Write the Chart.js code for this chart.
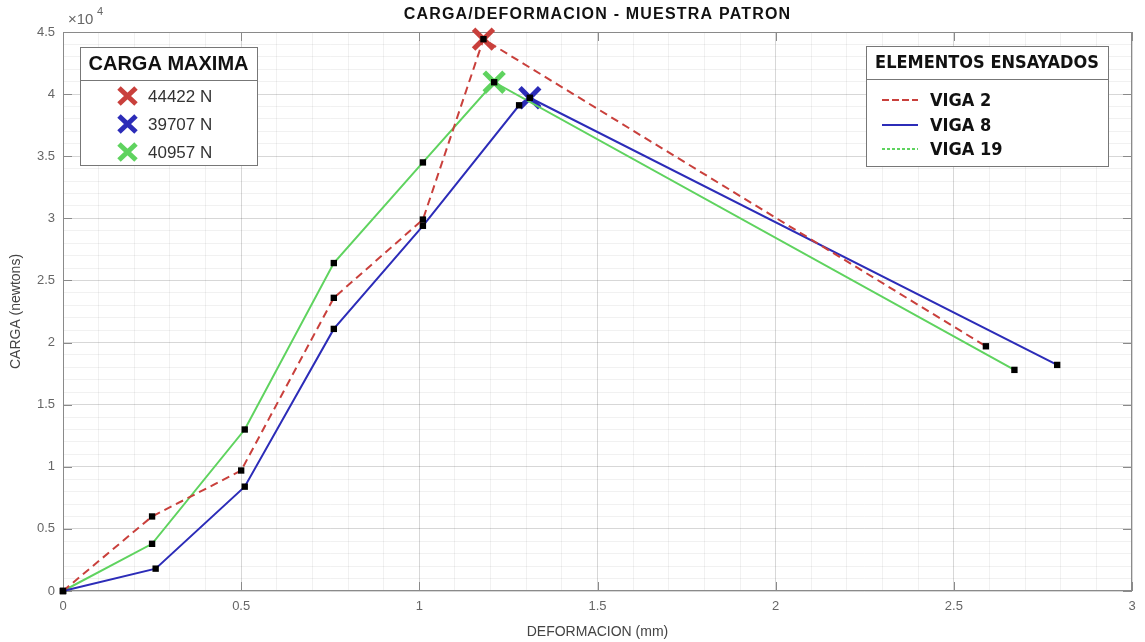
<!DOCTYPE html>
<html>
<head>
<meta charset="utf-8">
<title>CARGA/DEFORMACION - MUESTRA PATRON</title>
<script src="https://cdn.jsdelivr.net/npm/chart.js@4.4.1/dist/chart.umd.min.js"></script>
<style>
  html, body { margin: 0; padding: 0; background: #fff; }
  #wrap { width: 1145px; height: 642px; }
</style>
</head>
<body>
<div id="wrap"><canvas id="chart" width="1145" height="642"></canvas></div>
<script>
// --- data ---
const viga2X = [0, 0.25, 0.50, 0.76, 1.01, 1.18, 2.59];
const viga2Y = [0, 6000, 9700, 23600, 29900, 44422, 19700];

const viga8X = [0, 0.26, 0.51, 0.76, 1.01, 1.28, 1.31, 2.79];
const viga8Y = [0, 1800, 8400, 21100, 29400, 39100, 39707, 18200];

const viga19X = [0, 0.25, 0.51, 0.76, 1.01, 1.21, 2.67];
const viga19Y = [0, 3800, 13000, 26400, 34500, 40957, 17800];

// maximum load of each beam
const maxLabels = ["44422 N", "39707 N", "40957 N"];
const maxX = [1.18, 1.31, 1.21];
const maxY = [44422, 39707, 40957];

const serieNames = ["VIGA 2", "VIGA 8", "VIGA 19"];
const xTicks = [0, 0.5, 1, 1.5, 2, 2.5, 3];
const yTicks = [0, 5000, 10000, 15000, 20000, 25000, 30000, 35000, 40000, 45000];

const RED = "#c9403c";
const BLUE = "#2c2cb8";
const GREEN = "#5fd35f";
const FONT = "Arial, 'Liberation Sans', sans-serif";
const NARROW = "'Liberation Sans Narrow', 'DejaVu Sans Condensed', Arial, sans-serif";

const toPts = (xs, ys) => xs.map((x, i) => ({ x: x, y: ys[i] }));

function lineSet(label, xs, ys, color, dash) {
    return {
        label: label,
        data: toPts(xs, ys),
        showLine: true,
        borderColor: color,
        borderWidth: 2,
        borderDash: dash,
        pointStyle: "rect",
        pointRadius: 4.5,
        pointBackgroundColor: "#000",
        pointBorderColor: "#000",
        pointBorderWidth: 0,
        tension: 0,
        clip: false,
        order: 1,
    };
}

function maxSet(i, color) {
    return {
        label: maxLabels[i],
        data: [{ x: maxX[i], y: maxY[i] }],
        showLine: false,
        pointStyle: "crossRot",
        pointRadius: 14,
        borderWidth: 5,
        pointBorderColor: color,
        borderColor: color,
        clip: false,
        order: 2,
    };
}

const colors = [RED, BLUE, GREEN];

// no automatic edge padding: keep the plot box where the reference has it
const noPad = (s) => { s.paddingLeft = 0; s.paddingRight = 0; s.paddingTop = 0; s.paddingBottom = 0; };

// legend boxes, inner ticks, frame, title, exponent label
const decorPlugin = {
    id: "decor",
    beforeDatasetsDraw(chart) {
        const ctx = chart.ctx;
        const a = chart.chartArea;
        const xs = chart.scales.x;
        const ys = chart.scales.y;
        ctx.save();
        // frame
        ctx.strokeStyle = "#8a8a8a";
        ctx.lineWidth = 1;
        ctx.strokeRect(a.left + 0.5, a.top + 0.5, a.right - a.left - 1, a.bottom - a.top - 1);
        // inner tick marks
        ctx.beginPath();
        xTicks.forEach((v) => {
            const px = Math.round(xs.getPixelForValue(v)) + 0.5;
            ctx.moveTo(px, a.bottom); ctx.lineTo(px, a.bottom - 9);
            ctx.moveTo(px, a.top); ctx.lineTo(px, a.top + 9);
        });
        yTicks.forEach((v) => {
            const py = Math.round(ys.getPixelForValue(v)) + 0.5;
            ctx.moveTo(a.left, py); ctx.lineTo(a.left + 9, py);
            ctx.moveTo(a.right, py); ctx.lineTo(a.right - 9, py);
        });
        ctx.stroke();
        ctx.restore();
    },
    afterDraw(chart) {
        const ctx = chart.ctx;
        const a = chart.chartArea;
        ctx.save();

        // title
        ctx.fillStyle = "#111";
        ctx.font = "bold 16px " + FONT;
        ctx.textAlign = "center";
        ctx.textBaseline = "middle";
        ctx.letterSpacing = "1.2px";
        ctx.fillText("CARGA/DEFORMACION - MUESTRA PATRON", (a.left + a.right) / 2, 15);
        ctx.letterSpacing = "0px";

        // x10^4
        ctx.fillStyle = "#666";
        ctx.textAlign = "left";
        ctx.font = "15px " + FONT;
        ctx.fillText("\u00d710", a.left + 5, 20);
        ctx.font = "11px " + FONT;
        ctx.fillText("4", a.left + 34, 12);

        // left legend: CARGA MAXIMA
        const L = { x: 80, y: 47, w: 177, h: 118, sep: 80 };
        ctx.fillStyle = "#fff";
        ctx.fillRect(L.x, L.y, L.w, L.h);
        ctx.strokeStyle = "#777";
        ctx.lineWidth = 1;
        ctx.strokeRect(L.x + 0.5, L.y + 0.5, L.w, L.h);
        ctx.beginPath();
        ctx.moveTo(L.x, L.sep + 0.5); ctx.lineTo(L.x + L.w, L.sep + 0.5);
        ctx.stroke();
        ctx.fillStyle = "#111";
        ctx.font = "bold 20px " + FONT;
        ctx.textAlign = "center";
        ctx.fillText("CARGA MAXIMA", L.x + L.w / 2, 64);
        ctx.textAlign = "left";
        ctx.font = "17px " + FONT;
        [96, 124, 152].forEach((yy, i) => {
            ctx.strokeStyle = colors[i];
            ctx.lineWidth = 5;
            ctx.beginPath();
            ctx.moveTo(119, yy - 8); ctx.lineTo(136, yy + 8);
            ctx.moveTo(136, yy - 8); ctx.lineTo(119, yy + 8);
            ctx.stroke();
            ctx.fillStyle = "#333";
            ctx.fillText(maxLabels[i], 148, yy + 1);
        });

        // right legend: ELEMENTOS ENSAYADOS
        const R = { x: 866, y: 46, w: 242, h: 120, sep: 79 };
        ctx.lineWidth = 1;
        ctx.fillStyle = "#fff";
        ctx.fillRect(R.x, R.y, R.w, R.h);
        ctx.strokeStyle = "#777";
        ctx.strokeRect(R.x + 0.5, R.y + 0.5, R.w, R.h);
        ctx.beginPath();
        ctx.moveTo(R.x, R.sep + 0.5); ctx.lineTo(R.x + R.w, R.sep + 0.5);
        ctx.stroke();
        ctx.fillStyle = "#111";
        ctx.font = "bold 18px " + NARROW;
        ctx.textAlign = "center";
        ctx.fillText("ELEMENTOS ENSAYADOS", R.x + R.w / 2, 63);
        ctx.textAlign = "left";
        const dashes = [[7, 3], [], [3, 2]];
        [100, 125, 149].forEach((yy, i) => {
            ctx.strokeStyle = colors[i];
            ctx.lineWidth = 2;
            ctx.setLineDash(dashes[i]);
            ctx.beginPath();
            ctx.moveTo(882, yy); ctx.lineTo(918, yy);
            ctx.stroke();
            ctx.setLineDash([]);
            ctx.fillStyle = "#111";
            ctx.font = "bold 18px " + NARROW;
            ctx.fillText(serieNames[i], 930, yy + 1);
        });

        ctx.restore();
    },
};

const ctx = document.getElementById("chart").getContext("2d");
new Chart(ctx, {
    type: "scatter",
    data: {
        datasets: [
            lineSet(serieNames[0], viga2X, viga2Y, RED, [8, 5]),
            lineSet(serieNames[1], viga8X, viga8Y, BLUE, []),
            lineSet(serieNames[2], viga19X, viga19Y, GREEN, []),
            maxSet(0, RED),
            maxSet(1, BLUE),
            maxSet(2, GREEN),
        ],
    },
    options: {
        responsive: false,
        animation: false,
        layout: { autoPadding: false, padding: { top: 32, right: 13, left: 0, bottom: 0 } },
        plugins: {
            legend: { display: false },
            title: { display: false },
            tooltip: { enabled: false },
        },
        scales: {
            x: {
                type: "linear",
                position: "bottom",
                min: 0,
                max: 3,
                afterBuildTicks: (s) => { s.ticks = xTicks.map((v) => ({ value: v })); },
                ticks: {
                    color: "#666",
                    font: { family: FONT, size: 13 },
                    padding: 8,
                    maxRotation: 0,
                    callback: (v) => String(v),
                },
                grid: { color: "rgba(0,0,0,0.11)", drawTicks: false },
                border: { display: false },
                title: {
                    display: true,
                    text: "DEFORMACION (mm)",
                    color: "#444",
                    font: { family: FONT, size: 14 },
                    padding: { top: 2, bottom: 1 },
                },
                afterFit: (s) => { s.height = 51; noPad(s); },
            },
            y: {
                type: "linear",
                position: "left",
                min: 0,
                max: 45000,
                afterBuildTicks: (s) => { s.ticks = yTicks.map((v) => ({ value: v })); },
                ticks: {
                    color: "#666",
                    font: { family: FONT, size: 13 },
                    padding: 8,
                    callback: (v) => String(v / 10000),
                },
                grid: { color: "rgba(0,0,0,0.11)", drawTicks: false },
                border: { display: false },
                title: {
                    display: true,
                    text: "CARGA (newtons)",
                    color: "#444",
                    font: { family: FONT, size: 14 },
                    padding: { top: 8, bottom: 2 },
                },
                afterFit: (s) => { s.width = 63; noPad(s); },
            },
            xMinor: {
                type: "linear",
                position: "bottom",
                axis: "x",
                min: 0,
                max: 3,
                ticks: { display: false, stepSize: 0.1 },
                grid: { color: "rgba(0,0,0,0.055)", drawTicks: false },
                border: { display: false },
                afterFit: (s) => { s.height = 0; noPad(s); },
            },
            yMinor: {
                type: "linear",
                position: "left",
                axis: "y",
                min: 0,
                max: 45000,
                ticks: { display: false, stepSize: 1000 },
                grid: { color: "rgba(0,0,0,0.055)", drawTicks: false },
                border: { display: false },
                afterFit: (s) => { s.width = 0; noPad(s); },
            },
        },
    },
    plugins: [decorPlugin],
});
</script>
</body>
</html>
